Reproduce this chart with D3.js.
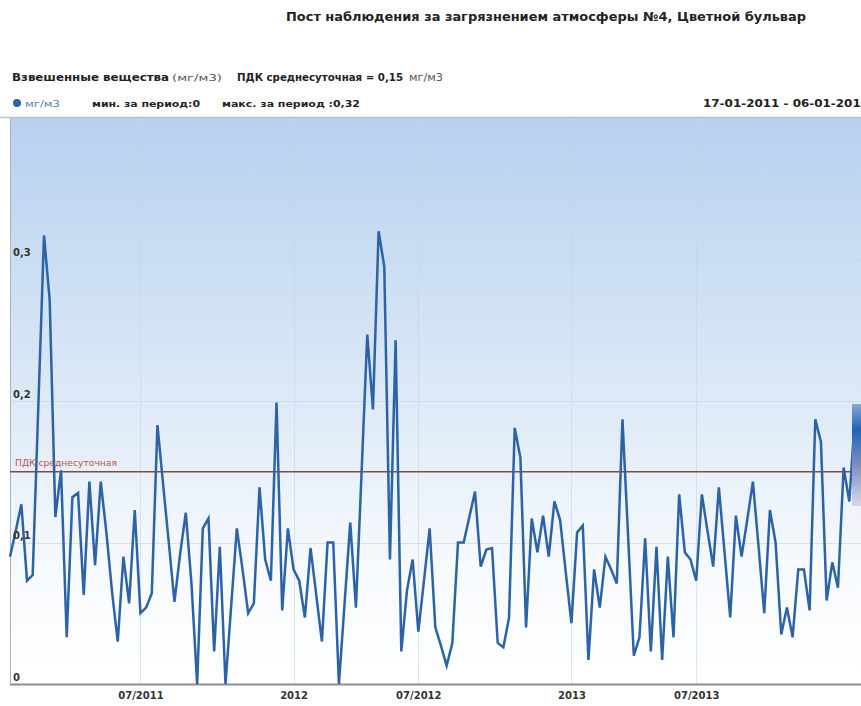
<!DOCTYPE html>
<html>
<head>
<meta charset="UTF-8">
<title>Пост наблюдения №4</title>
<script src="https://d3js.org/d3.v7.min.js"></script>
<style>
html, body { margin: 0; padding: 0; background: #fff; }
svg { display: block; font-family: "DejaVu Sans", Verdana, sans-serif; }
.hdr { font-weight: bold; fill: #222; }
.unit { fill: #555; }
.axis text { font-weight: bold; fill: #333; font-size: 10px; font-family: "DejaVu Sans", Verdana, sans-serif; }
.axis path, .axis line { display: none; }
</style>
</head>
<body>
<script>
// weekly values, mg/m3 (last visible point ~ week 150)
var values = [
  0.090, 0.108, 0.127, 0.073, 0.077, 0.197, 0.317, 0.271, 0.118, 0.151,
  0.033, 0.132, 0.135, 0.063, 0.143, 0.084, 0.143, 0.107, 0.065, 0.030,
  0.090, 0.057, 0.123, 0.050, 0.054, 0.064, 0.183, 0.141, 0.100, 0.058,
  0.092, 0.121, 0.071, 0.000, 0.110, 0.117, 0.023, 0.097, 0.000, 0.055,
  0.110, 0.081, 0.050, 0.057, 0.139, 0.088, 0.073, 0.199, 0.052, 0.110,
  0.081, 0.073, 0.047, 0.096, 0.063, 0.030, 0.100, 0.100, 0.000, 0.057,
  0.114, 0.054, 0.150, 0.247, 0.194, 0.320, 0.295, 0.088, 0.243, 0.023,
  0.066, 0.088, 0.037, 0.073, 0.110, 0.040, 0.027, 0.013, 0.029, 0.100,
  0.100, 0.118, 0.136, 0.083, 0.095, 0.096, 0.029, 0.026, 0.047, 0.181,
  0.160, 0.040, 0.117, 0.093, 0.119, 0.090, 0.129, 0.116, 0.079, 0.043,
  0.107, 0.112, 0.017, 0.081, 0.054, 0.090, 0.081, 0.071, 0.187, 0.104,
  0.020, 0.033, 0.103, 0.023, 0.097, 0.017, 0.090, 0.033, 0.134, 0.093,
  0.088, 0.073, 0.134, 0.108, 0.083, 0.139, 0.093, 0.047, 0.119, 0.090,
  0.116, 0.143, 0.097, 0.050, 0.123, 0.100, 0.035, 0.054, 0.033, 0.081,
  0.081, 0.052, 0.187, 0.171, 0.059, 0.086, 0.068, 0.153, 0.129, 0.190,
  0.185
];
var nWeeks = 156;            // 17-01-2011 .. 06-01-2014
var pdk = 0.15;
var yTicks = [0, 0.1, 0.2, 0.3];
var xTickIdx = [23, 50, 72, 99, 121];
var xTickLabels = ["07/2011", "2012", "07/2012", "2013", "07/2013"];

var title = "Пост наблюдения за загрязнением атмосферы №4, Цветной бульвар";
var period = "17-01-2011 - 06-01-2014";

var W = 861, H = 706;
var m = {left: 10, top: 118, bottom: 684, right: 889};

var svg = d3.select("body").append("svg")
    .attr("width", W)
    .attr("height", H);

var x = d3.scaleLinear().domain([0, nWeeks - 1]).range([m.left, m.right]);
var y = d3.scaleLinear().domain([0, 0.4]).range([m.bottom, m.top]);

var ru = d3.formatLocale({decimal: ",", thousands: " ", grouping: [3], currency: ["", ""]});
var fmt = ru.format("~g");

// background gradient of the plot
var defs = svg.append("defs");
var grad = defs.append("linearGradient")
    .attr("id", "bg").attr("x1", 0).attr("y1", 0).attr("x2", 0).attr("y2", 1);
grad.append("stop").attr("offset", "0%").attr("stop-color", "#b7d1ee");
grad.append("stop").attr("offset", "45%").attr("stop-color", "#d9e7f6");
grad.append("stop").attr("offset", "80%").attr("stop-color", "#f7fafd");
grad.append("stop").attr("offset", "100%").attr("stop-color", "#ffffff");

var boxGrad = defs.append("linearGradient")
    .attr("id", "box").attr("x1", 0).attr("y1", 0).attr("x2", 0).attr("y2", 1);
boxGrad.append("stop").attr("offset", "0%").attr("stop-color", "#8aa6d2");
boxGrad.append("stop").attr("offset", "25%").attr("stop-color", "#1f63b5");
boxGrad.append("stop").attr("offset", "60%").attr("stop-color", "#7f8fbf");
boxGrad.append("stop").attr("offset", "100%").attr("stop-color", "#d6d8ea");

svg.append("rect")
    .attr("x", m.left).attr("y", m.top)
    .attr("width", m.right - m.left).attr("height", m.bottom - m.top)
    .attr("fill", "url(#bg)");

// header
svg.append("text").attr("class", "hdr")
    .attr("x", 286).attr("y", 21)
    .attr("textLength", 520).attr("lengthAdjust", "spacingAndGlyphs")
    .style("font-size", "12.5px")
    .text(title);

svg.append("text").attr("class", "hdr")
    .attr("x", 12).attr("y", 81)
    .attr("textLength", 157).attr("lengthAdjust", "spacingAndGlyphs")
    .style("font-size", "11px")
    .text("Взвешенные вещества");
svg.append("text").attr("class", "unit")
    .attr("x", 172).attr("y", 81)
    .attr("textLength", 50).attr("lengthAdjust", "spacingAndGlyphs")
    .style("font-size", "9.5px")
    .text("(мг/м3)");

svg.append("text").attr("class", "hdr")
    .attr("x", 237).attr("y", 81)
    .attr("textLength", 166).attr("lengthAdjust", "spacingAndGlyphs")
    .style("font-size", "10.5px")
    .text("ПДК среднесуточная = " + fmt(pdk));
svg.append("text").attr("class", "unit")
    .attr("x", 409).attr("y", 81)
    .attr("textLength", 34).attr("lengthAdjust", "spacingAndGlyphs")
    .style("font-size", "10px")
    .text("мг/м3");

svg.append("circle")
    .attr("cx", 17).attr("cy", 103).attr("r", 4)
    .attr("fill", "#2a63a8");
svg.append("text")
    .attr("x", 25).attr("y", 107)
    .attr("textLength", 35).attr("lengthAdjust", "spacingAndGlyphs")
    .style("font-size", "9.5px").style("fill", "#5b80b4")
    .text("мг/м3");
svg.append("text").attr("class", "hdr")
    .attr("x", 92).attr("y", 107)
    .attr("textLength", 108).attr("lengthAdjust", "spacingAndGlyphs")
    .style("font-size", "9.5px")
    .text("мин. за период:" + fmt(d3.min(values)));
svg.append("text").attr("class", "hdr")
    .attr("x", 222).attr("y", 107)
    .attr("textLength", 138).attr("lengthAdjust", "spacingAndGlyphs")
    .style("font-size", "9.5px")
    .text("макс. за период :" + fmt(d3.max(values)));
svg.append("text").attr("class", "hdr")
    .attr("x", 703).attr("y", 107)
    .attr("textLength", 166).attr("lengthAdjust", "spacingAndGlyphs")
    .style("font-size", "10.5px")
    .text(period);

svg.append("line")
    .attr("x1", 0).attr("x2", W)
    .attr("y1", m.top - 0.5).attr("y2", m.top - 0.5)
    .attr("stroke", "#b9c2cc").attr("stroke-width", 1.5);

// faint grid
svg.append("g").selectAll("line")
    .data(yTicks.slice(1))
  .enter().append("line")
    .attr("x1", m.left).attr("x2", m.right)
    .attr("y1", function(d) { return Math.round(y(d)) + 0.5; })
    .attr("y2", function(d) { return Math.round(y(d)) + 0.5; })
    .attr("stroke", "#c5d3e4").attr("stroke-opacity", 0.6);

svg.append("g").selectAll("line")
    .data(xTickIdx)
  .enter().append("line")
    .attr("x1", function(d) { return Math.round(x(d)) + 0.5; })
    .attr("x2", function(d) { return Math.round(x(d)) + 0.5; })
    .attr("y1", m.top).attr("y2", m.bottom)
    .attr("stroke", "#c5d3e4").attr("stroke-opacity", 0.6);

// borders
svg.append("line")
    .attr("x1", m.left + 0.5).attr("x2", m.left + 0.5)
    .attr("y1", m.top).attr("y2", m.bottom)
    .attr("stroke", "#a9b4c0");
svg.append("line")
    .attr("x1", m.left).attr("x2", W)
    .attr("y1", m.bottom + 0.5).attr("y2", m.bottom + 0.5)
    .attr("stroke", "#8d8d8d").attr("stroke-width", 2);

// ПДК
svg.append("line")
    .attr("x1", m.left).attr("x2", m.right)
    .attr("y1", y(pdk)).attr("y2", y(pdk))
    .attr("stroke", "#7d4b46").attr("stroke-width", 1.5);
svg.append("text")
    .attr("x", 15).attr("y", y(pdk) - 6)
    .attr("textLength", 102).attr("lengthAdjust", "spacingAndGlyphs")
    .style("font-size", "8px").style("fill", "#c0504d")
    .text("ПДК среднесуточная");

// series
var line = d3.line()
    .x(function(d, i) { return x(i); })
    .y(function(d) { return y(d); });

svg.append("path")
    .datum(values)
    .attr("d", line)
    .attr("fill", "none")
    .attr("stroke", "#2c63a6")
    .attr("stroke-width", 2.5)
    .attr("stroke-linejoin", "miter");

// cut-off tooltip box at the right edge
svg.append("rect")
    .attr("x", 852).attr("y", 404)
    .attr("width", 20).attr("height", 102)
    .attr("fill", "url(#box)");

// axes
var yAxis = d3.axisRight(y)
    .tickValues(yTicks)
    .tickSize(0)
    .tickPadding(3)
    .tickFormat(fmt);
svg.append("g").attr("class", "axis")
    .attr("transform", "translate(" + m.left + ",0)")
    .call(yAxis)
  .selectAll("text")
    .attr("dy", "-0.38em");

var xAxis = d3.axisBottom(x)
    .tickValues(xTickIdx)
    .tickSize(0)
    .tickPadding(8)
    .tickFormat(function(d, i) { return xTickLabels[i]; });
svg.append("g").attr("class", "axis")
    .attr("transform", "translate(0," + m.bottom + ")")
    .call(xAxis);
</script>
</body>
</html>
